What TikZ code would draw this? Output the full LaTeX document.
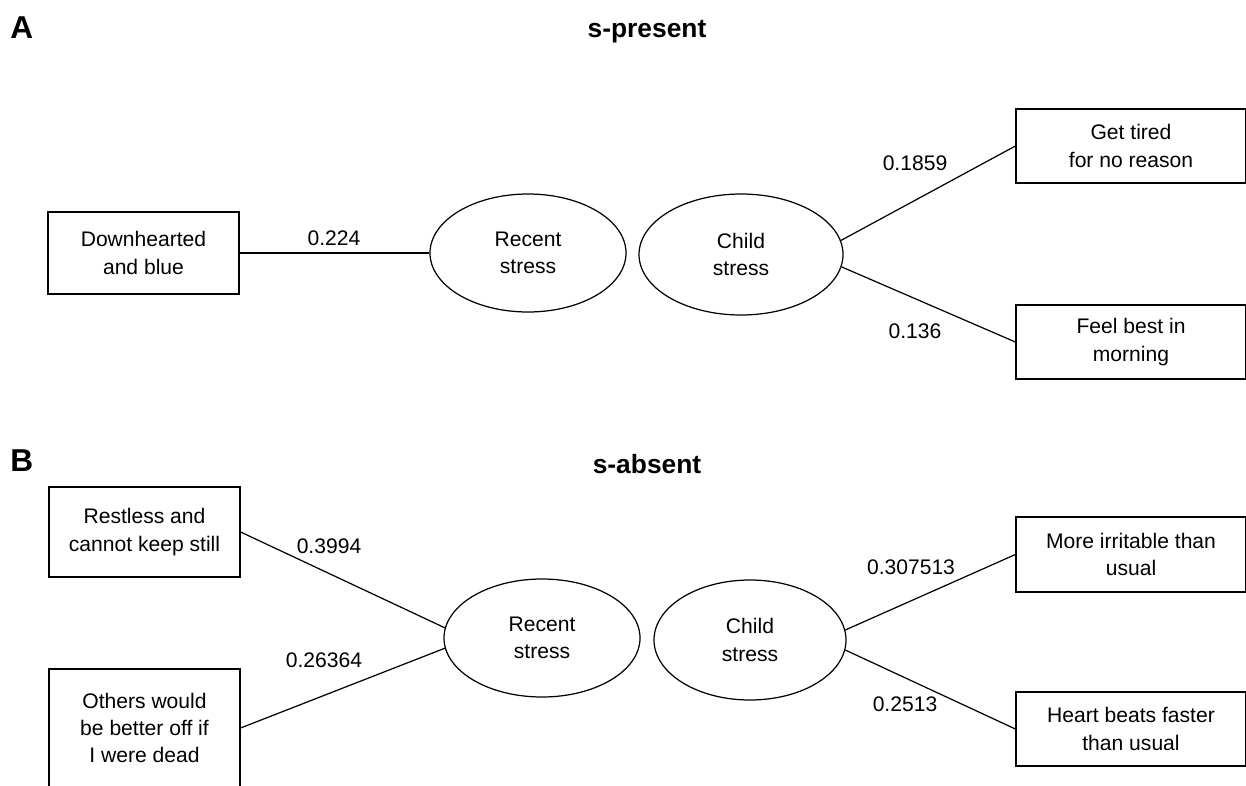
\documentclass[tikz,border=0pt]{standalone}
\usepackage{fontspec}
\setmainfont{Liberation Sans}
\usepackage{tikz}
\usetikzlibrary{arrows,shapes,positioning}
\usepackage{xcolor}
\tikzstyle{item} = [rectangle, draw=black, line width=0.7pt, minimum width=3.82cm, align=center, inner sep=2pt, font=\fontsize{12}{15.5}\selectfont]
\tikzstyle{factor} = [ellipse, draw=black, line width=0.7pt, minimum width=3.92cm, minimum height=2.36cm, inner sep=0pt, align=center, font=\fontsize{12}{15.5}\selectfont]
\tikzstyle{link} = [line width=0.7pt, color=black]
\tikzstyle{weight} = [font=\fontsize{12}{14}\selectfont, inner sep=1pt]
\tikzstyle{panel} = [font=\bfseries\fontsize{18}{20}\selectfont, anchor=base west, inner sep=0pt]
\tikzstyle{heading} = [font=\bfseries\fontsize{15}{18}\selectfont, anchor=base, inner sep=0pt]

\begin{document}
\begin{tikzpicture}
    \useasboundingbox (0, 0) rectangle (24.92, -15.7);
    \clip (0, 0) rectangle (24.92, -15.7);

    % Panel A
    \node[panel] (labA) at (0.2, -0.76) {A};
    \node[heading] (titleA) at (12.94, -0.74) {s-present};

    \node[item, minimum height=1.64cm] (downA) at (2.87, -5.06) {Downhearted\\and blue};
    \node[factor] (recentA) at (10.56, -5.06) {Recent\\stress};
    \node[factor, minimum width=4.08cm, minimum height=2.42cm] (childA) at (14.82, -5.09) {Child\\stress};
    \node[item, minimum width=4.6cm, minimum height=1.48cm] (tiredA) at (22.62, -2.92) {Get tired\\for no reason};
    \node[item, minimum width=4.6cm, minimum height=1.48cm] (morningA) at (22.62, -6.84) {Feel best in\\morning};

    \draw[link] (downA.east) -- (recentA.west);
    \draw[link] (childA.8) -- (tiredA.west);
    \draw[link] (childA.-7) -- (morningA.west);

    \node[weight] (wA1) at (6.68, -4.76) {0.224};
    \node[weight] (wA2) at (18.3, -3.26) {0.1859};
    \node[weight] (wA3) at (18.3, -6.62) {0.136};

    % Panel B
    \node[panel] (labB) at (0.2, -9.42) {B};
    \node[heading] (titleB) at (12.94, -9.46) {s-absent};

    \node[item, minimum height=1.8cm] (restB) at (2.89, -10.64) {Restless and\\cannot keep still};
    \node[item, minimum height=2.36cm] (othersB) at (2.89, -14.56) {Others would\\be better off if\\I were dead};
    \node[factor] (recentB) at (10.84, -12.76) {Recent\\stress};
    \node[factor, minimum width=3.84cm, minimum height=2.4cm] (childB) at (15.0, -12.8) {Child\\stress};
    \node[item, minimum width=4.6cm, minimum height=1.5cm] (irritB) at (22.62, -11.09) {More irritable than\\usual};
    \node[item, minimum width=4.6cm, minimum height=1.48cm] (heartB) at (22.62, -14.58) {Heart beats faster\\than usual};

    \draw[link] (restB.east) -- (recentB.174);
    \draw[link] (othersB.east) -- (recentB.186);
    \draw[link] (childB.6) -- (irritB.west);
    \draw[link] (childB.-6) -- (heartB.west);

    \node[weight] (wB1) at (6.58, -10.92) {0.3994};
    \node[weight] (wB2) at (6.48, -13.2) {0.26364};
    \node[weight] (wB3) at (18.22, -11.34) {0.307513};
    \node[weight] (wB4) at (18.1, -14.08) {0.2513};
\end{tikzpicture}
\end{document}
